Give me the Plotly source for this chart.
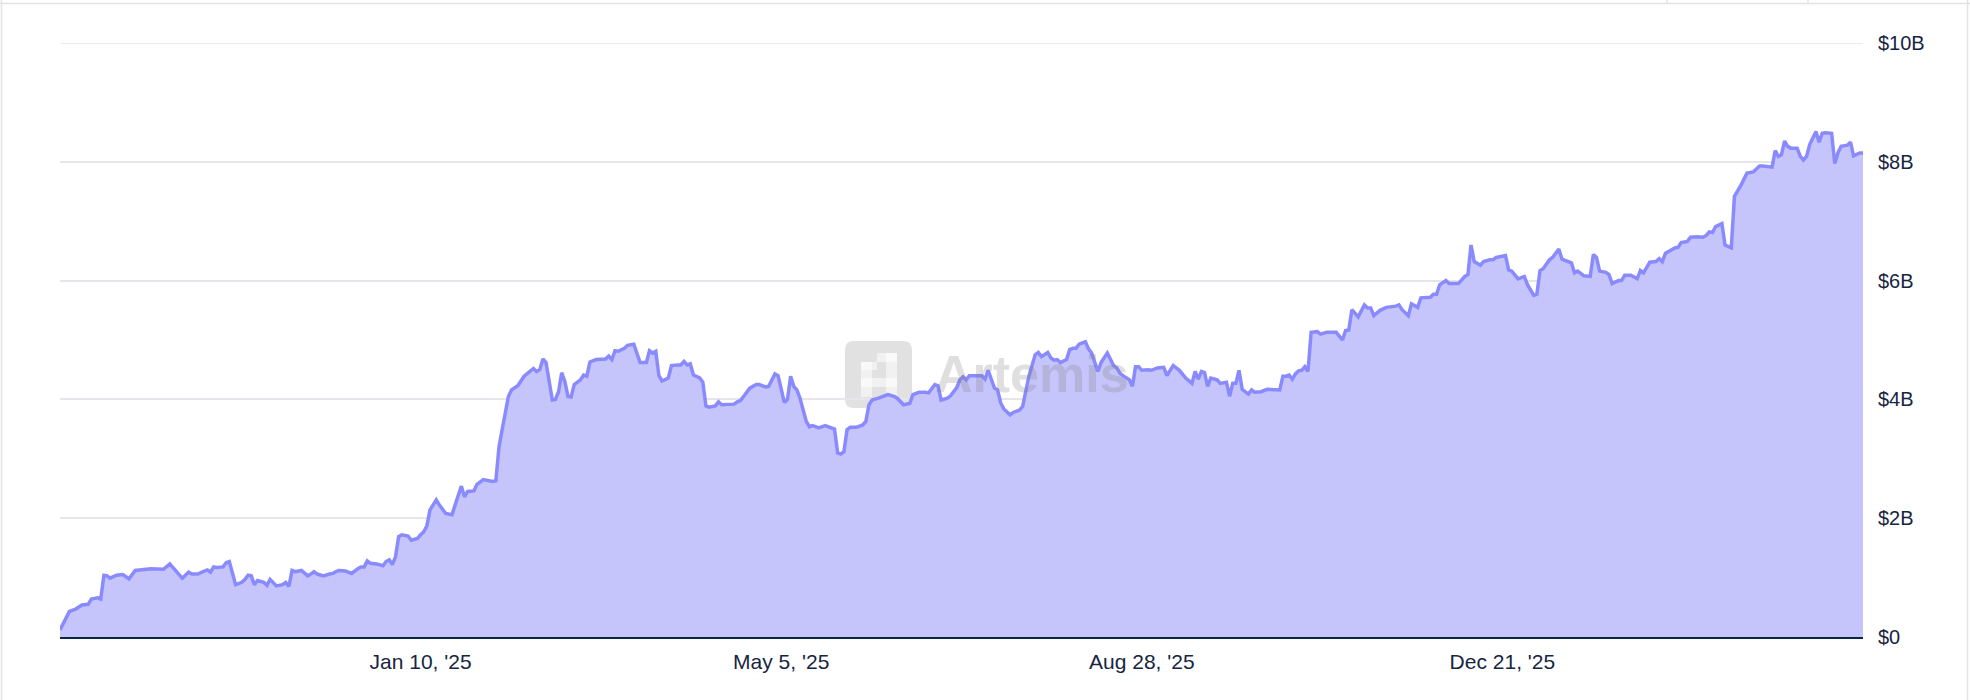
import pandas as pd
import plotly.graph_objects as go

# ---------------- data ----------------
start_date = "2024-09-17"
end_date = "2026-04-15"

day_offsets = [
    0, 3, 5, 7, 9, 10, 12, 13, 14, 15, 16, 18, 20, 22, 24, 27, 29, 33, 35, 39,
    41, 42, 44, 46, 47, 48, 49, 50, 52, 53, 54, 56, 58, 59, 60, 61, 62, 63, 65, 66,
    67, 69, 71, 72, 73, 74, 75, 77, 78, 79, 80, 81, 82, 84, 86, 87, 88, 89, 91, 93,
    95, 96, 97, 98, 99, 101, 103, 104, 105, 106, 107, 108, 109, 111, 112, 114, 115, 116, 117, 118,
    120, 121, 123, 125, 126, 128, 129, 130, 132, 133, 135, 137, 138, 139, 140, 141, 143, 144, 146, 148,
    149, 150, 151, 152, 153, 154, 155, 157, 158, 159, 160, 161, 162, 163, 164, 166, 167, 168, 169, 171,
    174, 175, 176, 177, 178, 180, 181, 183, 185, 187, 188, 189, 190, 191, 192, 194, 195, 197, 198, 199,
    200, 201, 202, 204, 205, 206, 207, 209, 210, 211, 214, 215, 216, 217, 218, 220, 222, 223, 225, 226,
    228, 229, 231, 232, 233, 234, 235, 236, 238, 239, 240, 242, 244, 246, 247, 248, 249, 250, 251, 252,
    254, 256, 257, 258, 259, 261, 263, 264, 266, 267, 269, 271, 272, 274, 276, 277, 279, 280, 281, 283,
    284, 286, 287, 288, 289, 290, 294, 295, 296, 297, 298, 299, 300, 301, 303, 304, 306, 307, 308, 309,
    311, 312, 313, 315, 316, 317, 318, 319, 321, 322, 323, 324, 325, 327, 328, 329, 331, 332, 334, 336,
    337, 338, 339, 341, 342, 343, 344, 345, 347, 348, 350, 352, 353, 355, 357, 359, 361, 362, 363, 364,
    365, 366, 367, 369, 370, 372, 373, 374, 375, 376, 377, 379, 380, 381, 383, 385, 389, 390, 391, 392,
    393, 394, 395, 396, 397, 398, 399, 401, 402, 403, 404, 407, 408, 409, 410, 411, 412, 413, 414, 416,
    417, 418, 419, 421, 423, 426, 427, 428, 430, 431, 433, 434, 437, 438, 439, 440, 442, 443, 446, 448,
    449, 450, 451, 453, 454, 456, 457, 458, 461, 462, 463, 465, 467, 468, 470, 471, 472, 473, 474, 475,
    476, 478, 479, 482, 483, 484, 486, 488, 489, 490, 491, 493, 494, 495, 497, 498, 499, 501, 503, 504,
    505, 507, 509, 510, 511, 512, 513, 515, 516, 517, 519, 520, 522, 524, 525, 526, 527, 528, 530, 531,
    533, 534, 536, 537, 538, 540, 542, 543, 546, 547, 548, 549, 550, 551, 552, 554, 555, 556, 557, 558,
    560, 561, 562, 563, 565, 566, 567, 568, 570, 571, 572, 574, 575,
]

values_bn = [
    0.12, 0.43, 0.47, 0.54, 0.55, 0.64, 0.66, 0.64, 1.04, 1.03, 0.99, 1.04, 1.05, 0.98, 1.12, 1.13, 1.15, 1.14, 1.23, 0.99,
    1.09, 1.06, 1.06, 1.11, 1.13, 1.09, 1.18, 1.17, 1.18, 1.25, 1.27, 0.88, 0.92, 0.97, 1.04, 1.03, 0.88, 0.95, 0.92, 0.87,
    0.97, 0.86, 0.88, 0.92, 0.85, 1.12, 1.10, 1.12, 1.07, 1.03, 1.06, 1.10, 1.06, 1.03, 1.06, 1.07, 1.10, 1.12, 1.11, 1.07,
    1.15, 1.18, 1.18, 1.28, 1.24, 1.23, 1.20, 1.27, 1.30, 1.22, 1.35, 1.69, 1.72, 1.70, 1.63, 1.66, 1.72, 1.77, 1.87, 2.14,
    2.31, 2.22, 2.08, 2.06, 2.22, 2.54, 2.36, 2.45, 2.46, 2.57, 2.65, 2.63, 2.62, 2.63, 3.20, 3.49, 4.05, 4.16, 4.23, 4.39,
    4.44, 4.47, 4.52, 4.47, 4.50, 4.68, 4.62, 3.99, 4.00, 4.13, 4.45, 4.30, 4.05, 4.04, 4.25, 4.33, 4.41, 4.39, 4.63, 4.67,
    4.68, 4.73, 4.67, 4.82, 4.81, 4.86, 4.91, 4.93, 4.62, 4.62, 4.82, 4.78, 4.81, 4.40, 4.31, 4.36, 4.57, 4.58, 4.58, 4.64,
    4.58, 4.60, 4.41, 4.36, 4.29, 3.89, 3.87, 3.89, 3.96, 3.91, 3.91, 3.92, 3.96, 3.98, 4.05, 4.19, 4.25, 4.25, 4.21, 4.22,
    4.43, 4.40, 3.95, 4.00, 4.39, 4.22, 4.16, 4.02, 3.63, 3.54, 3.56, 3.52, 3.56, 3.52, 3.50, 3.10, 3.08, 3.12, 3.49, 3.53,
    3.53, 3.57, 3.63, 3.91, 3.99, 4.02, 4.05, 4.08, 4.05, 4.02, 3.91, 3.93, 4.08, 4.12, 4.12, 4.11, 4.25, 4.23, 3.99, 4.02,
    4.06, 4.20, 4.33, 4.38, 4.33, 4.40, 4.40, 4.34, 4.49, 4.33, 4.19, 4.16, 3.94, 3.84, 3.74, 3.78, 3.82, 3.88, 4.13, 4.39,
    4.75, 4.79, 4.72, 4.79, 4.70, 4.66, 4.67, 4.62, 4.67, 4.84, 4.86, 4.86, 4.93, 4.97, 4.85, 4.78, 4.47, 4.62, 4.78, 4.57,
    4.53, 4.44, 4.40, 4.33, 4.22, 4.55, 4.55, 4.49, 4.50, 4.49, 4.53, 4.54, 4.40, 4.57, 4.49, 4.36, 4.27, 4.47, 4.34, 4.47,
    4.45, 4.22, 4.36, 4.33, 4.27, 4.29, 4.05, 4.27, 4.27, 4.49, 4.17, 4.09, 4.16, 4.12, 4.13, 4.17, 4.16, 4.39, 4.39, 4.41,
    4.34, 4.43, 4.48, 4.49, 4.55, 4.47, 5.13, 5.14, 5.10, 5.12, 5.13, 5.13, 5.06, 5.00, 5.16, 5.17, 5.51, 5.45, 5.39, 5.59,
    5.54, 5.54, 5.41, 5.50, 5.55, 5.57, 5.59, 5.51, 5.41, 5.61, 5.55, 5.71, 5.72, 5.77, 5.77, 5.93, 6.00, 5.95, 5.95, 6.07,
    6.10, 6.60, 6.32, 6.26, 6.32, 6.35, 6.35, 6.39, 6.42, 6.18, 6.16, 6.03, 6.07, 5.93, 5.75, 5.77, 6.17, 6.20, 6.28, 6.35,
    6.39, 6.53, 6.36, 6.30, 6.13, 6.16, 6.08, 6.07, 6.44, 6.39, 6.16, 6.14, 6.10, 5.95, 6.00, 6.00, 6.09, 6.09, 6.03, 6.17,
    6.13, 6.31, 6.32, 6.37, 6.32, 6.46, 6.49, 6.55, 6.56, 6.64, 6.66, 6.73, 6.74, 6.73, 6.76, 6.82, 6.81, 6.91, 6.96, 6.60,
    6.55, 7.42, 7.60, 7.70, 7.81, 7.83, 7.93, 7.93, 7.91, 8.19, 8.09, 8.12, 8.35, 8.26, 8.23, 8.23, 8.09, 8.03, 8.09, 8.29,
    8.51, 8.33, 8.48, 8.49, 8.48, 7.97, 8.15, 8.26, 8.28, 8.33, 8.10, 8.15, 8.15,
]

x_tick_dates = ["2025-01-10", "2025-05-05", "2025-08-28", "2025-12-21"]
x_tick_labels = ["Jan 10, '25", "May 5, '25", "Aug 28, '25", "Dec 21, '25"]
y_tick_values = [0, 2e9, 4e9, 6e9, 8e9, 10e9]
y_tick_labels = ["$0", "$2B", "$4B", "$6B", "$8B", "$10B"]

# ---------------- figure ----------------
dates = pd.Timestamp(start_date) + pd.to_timedelta(day_offsets, unit="D")
values = [v * 1e9 for v in values_bn]

W, H = 1970, 700
ML, MR, MT, MB = 60, 107, 43, 63
PW, PH = W - ML - MR, H - MT - MB

def px(x):
    return (x - ML) / PW

def py(y):
    return (H - MB - y) / PH

LINE = "#8a8aff"
FILL = "#c5c5fb"
TEXT = "#17253f"
GRID = "#e5e5ea"
FONT = "Liberation Sans, Arial, Helvetica, sans-serif"

fig = go.Figure()
fig.add_trace(go.Scatter(
    x=dates, y=values, mode="lines",
    line=dict(color=LINE, width=3.5),
    fill="tozeroy", fillcolor=FILL,
    hoverinfo="skip", showlegend=False,
))

shapes = []
# top gridline (range edge), drawn explicitly
shapes.append(dict(type="line", xref="paper", yref="y", x0=0, x1=1, y0=y_tick_values[-1], y1=y_tick_values[-1],
                   line=dict(color=GRID, width=1.5), layer="below"))
# card borders
border = "#e3e3e6"
shapes.append(dict(type="line", xref="paper", yref="paper", x0=px(0), x1=px(W), y0=py(3.5), y1=py(3.5),
                   line=dict(color=border, width=1.5)))
shapes.append(dict(type="line", xref="paper", yref="paper", x0=px(1.5), x1=px(1.5), y0=py(0), y1=py(H),
                   line=dict(color=border, width=1.5)))
shapes.append(dict(type="line", xref="paper", yref="paper", x0=px(1967.5), x1=px(1967.5), y0=py(0), y1=py(H),
                   line=dict(color=border, width=1.5)))
for xx in (1667, 1808):
    shapes.append(dict(type="line", xref="paper", yref="paper", x0=px(xx), x1=px(xx), y0=py(0), y1=py(3.5),
                       line=dict(color=border, width=1.5)))

# watermark icon (rounded square with pixel glyph)
wm = "rgba(120,120,120,0.22)"
x0, x1, y0, y1, r = 845, 912, 341, 408, 9
path = (f"M {px(x0 + r)},{py(y0)} L {px(x1 - r)},{py(y0)} Q {px(x1)},{py(y0)} {px(x1)},{py(y0 + r)} "
        f"L {px(x1)},{py(y1 - r)} Q {px(x1)},{py(y1)} {px(x1 - r)},{py(y1)} "
        f"L {px(x0 + r)},{py(y1)} Q {px(x0)},{py(y1)} {px(x0)},{py(y1 - r)} "
        f"L {px(x0)},{py(y0 + r)} Q {px(x0)},{py(y0)} {px(x0 + r)},{py(y0)} Z")
shapes.append(dict(type="path", xref="paper", yref="paper", path=path, fillcolor=wm, line=dict(width=0), layer="below"))
glyph = [(877, 353, 897, 362), (886, 353, 897, 397), (861, 378, 897, 387), (861, 362, 872, 397), (861, 362, 877, 370)]
for gx0, gy0, gx1, gy1 in glyph:
    shapes.append(dict(type="rect", xref="paper", yref="paper", x0=px(gx0), x1=px(gx1), y0=py(gy1), y1=py(gy0),
                       fillcolor="rgba(255,255,255,0.55)", line=dict(width=0), layer="below"))

fig.add_annotation(text="<b>Artemis</b>", xref="paper", yref="paper", x=px(933), y=py(374),
                   xanchor="left", yanchor="middle", showarrow=False,
                   font=dict(family=FONT, size=52, color="rgba(120,120,120,0.24)"))

fig.update_layout(
    width=W, height=H,
    margin=dict(l=ML, r=MR, t=MT, b=MB, pad=0),
    paper_bgcolor="white", plot_bgcolor="white",
    shapes=shapes,
    font=dict(family=FONT, color=TEXT),
    xaxis=dict(
        type="date", range=[start_date, end_date],
        tickmode="array", tickvals=x_tick_dates, ticktext=x_tick_labels,
        showgrid=False, zeroline=False,
        showline=True, linecolor="#0d2244", linewidth=2,
        ticks="outside", ticklen=5, tickcolor="rgba(0,0,0,0)",
        tickfont=dict(size=21, color=TEXT, family=FONT),
        fixedrange=True,
    ),
    yaxis=dict(
        side="right", range=[0, 10e9],
        tickmode="array", tickvals=y_tick_values, ticktext=y_tick_labels,
        showgrid=True, gridcolor=GRID, gridwidth=1.5,
        zeroline=False, showline=False,
        ticks="outside", ticklen=10, tickcolor="rgba(0,0,0,0)",
        tickfont=dict(size=20, color=TEXT, family=FONT),
        fixedrange=True,
    ),
)

fig.write_html(
    "out.html",
    config={"displayModeBar": False},
    post_script="document.body.style.margin='0';document.body.style.overflow='hidden';",
)
